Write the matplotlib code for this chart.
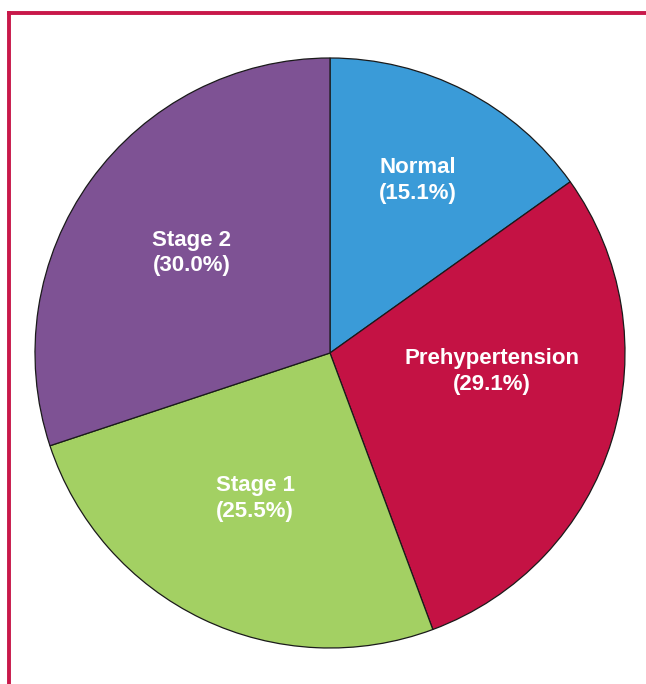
import matplotlib.pyplot as plt
from matplotlib.lines import Line2D

# blood pressure categories, clockwise from 12 o'clock
categories = ["Normal", "Prehypertension", "Stage 1", "Stage 2"]
shares = [15.1, 29.1, 25.5, 30.0]
colors = ["#3A9BD8", "#C41244", "#A3D063", "#7E5294"]

# label centres in pie units (radius = 1)
label_pos = [(0.298, 0.586), (0.549, -0.064), (-0.254, -0.492), (-0.468, 0.339)]

W, H = 646, 684
fig = plt.figure(figsize=(W / 100, H / 100), dpi=100)
fig.patch.set_facecolor("white")

cx, cy, R = 330, 684 - 353, 295
pad = 1.03
ax = fig.add_axes([(cx - R * pad) / W, (cy - R * pad) / H, 2 * R * pad / W, 2 * R * pad / H])

wedges, _ = ax.pie(shares, colors=colors, startangle=90, counterclock=False,
                   wedgeprops=dict(edgecolor="#1a1a1a", linewidth=0.9))
ax.set_xlim(-pad, pad)
ax.set_ylim(-pad, pad)
ax.set_aspect("equal")
ax.axis("off")

for name, val, (x, y) in zip(categories, shares, label_pos):
    ax.text(x, y, f"{name}\n({val:.1f}%)", ha="center", va="center",
            color="white", fontsize=16, fontweight="bold",
            family="Liberation Sans", linespacing=1.3)

# frame lines top and left
red = "#C8184A"
fig.add_artist(Line2D([7 / W, 1], [1 - 12.5 / H, 1 - 12.5 / H], color=red, lw=2.8,
                      transform=fig.transFigure, solid_capstyle="butt"))
fig.add_artist(Line2D([8.5 / W, 8.5 / W], [0, 1 - 11 / H], color=red, lw=2.8,
                      transform=fig.transFigure, solid_capstyle="butt"))

fig.savefig("out.png", dpi=100)
